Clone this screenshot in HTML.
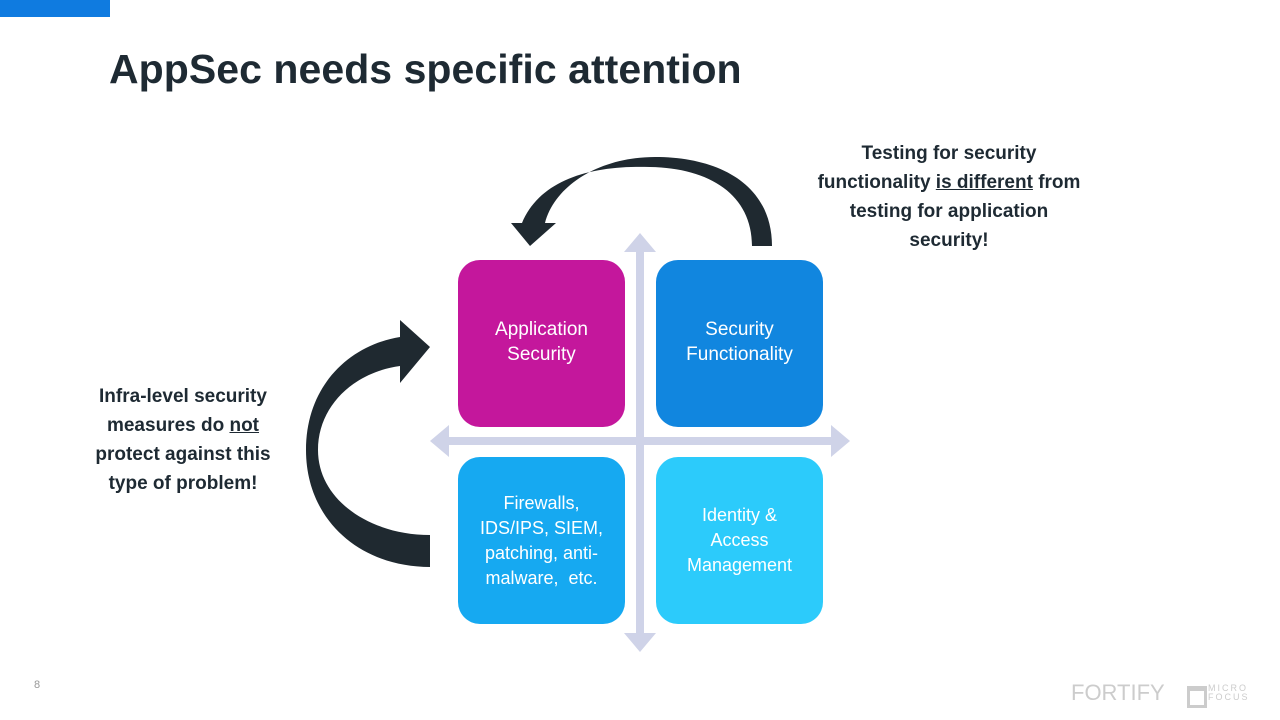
<!DOCTYPE html>
<html><head><meta charset="utf-8"><style>
body{margin:0;width:1280px;height:720px;background:#fff;position:relative;overflow:hidden;font-family:"Liberation Sans",Calibri,sans-serif}
.t{position:absolute;font-weight:bold;color:#1e2a33;white-space:nowrap}
.box{position:absolute;width:167px;height:167px;border-radius:22px;color:#fff;display:flex;align-items:center;justify-content:center;text-align:center;font-size:19px;line-height:25px;white-space:nowrap}
</style></head><body>
<div style="position:absolute;left:0;top:0;width:110px;height:17px;background:#0f7be0"></div>
<div class="t" style="left:109px;top:46px;font-size:41px;letter-spacing:0.05px;color:#1e2a33">AppSec needs specific attention</div>
<svg width="1280" height="720" style="position:absolute;left:0;top:0">
<g fill="#cfd3e8">
<rect x="636" y="250" width="8" height="385"/>
<polygon points="640,233 624,252 656,252"/>
<polygon points="640,652 624,633 656,633"/>
<rect x="448" y="437" width="385" height="8"/>
<polygon points="430,441 449,425 449,457"/>
<polygon points="850,441 831,425 831,457"/>
</g>
<g fill="#1f2930">
<path d="M772,246 C772,185 720,157 655,157 C600,157 555,185 545,223 L556,223 L530,246 L511,223 L522,223 C540,180 590,165 650,167 C710,168 752,195 752,246 Z"/>
<path d="M430,567 C360,567 306,520 306,450 C306,385 350,345 400,337 L400,320 L430,347 L400,383 L400,366 C355,372 318,405 318,450 C318,500 370,535 430,535 Z"/>
</g>
</svg>
<div class="box" style="left:458px;top:260px;background:#c4179c"><div style="margin-top:-3px">Application<br>Security</div></div>
<div class="box" style="left:656px;top:260px;background:#1186df"><div style="margin-top:-3px">Security<br>Functionality</div></div>
<div class="box" style="left:458px;top:457px;background:#16a9f1"><div style="font-size:18px">Firewalls,<br>IDS/IPS, SIEM,<br>patching, anti-<br>malware,&nbsp; etc.</div></div>
<div class="box" style="left:656px;top:457px;background:#2ccbfb"><div style="font-size:18px">Identity &amp;<br>Access<br>Management</div></div>
<div class="t" style="left:790px;top:139px;width:318px;text-align:center;font-size:19px;line-height:29px">Testing for security<br>functionality <u>is different</u> from<br>testing for application<br>security!</div>
<div class="t" style="left:80px;top:382px;width:206px;text-align:center;font-size:19px;line-height:29px">Infra-level security<br>measures do <u>not</u><br>protect against this<br>type of problem!</div>
<div style="position:absolute;left:34px;top:679px;font-size:11px;color:#999">8</div>
<div style="position:absolute;left:1071px;top:680px;font-size:22px;color:#ccc">FORTIFY</div>
<div style="position:absolute;left:1187px;top:686px;width:14px;height:14px;border:3px solid #ccc;border-top-width:5px"></div>
<div style="position:absolute;left:1208px;top:684px;font-size:9px;line-height:9px;color:#ccc;letter-spacing:2px">MICRO<br>FOCUS</div>
</body></html>
